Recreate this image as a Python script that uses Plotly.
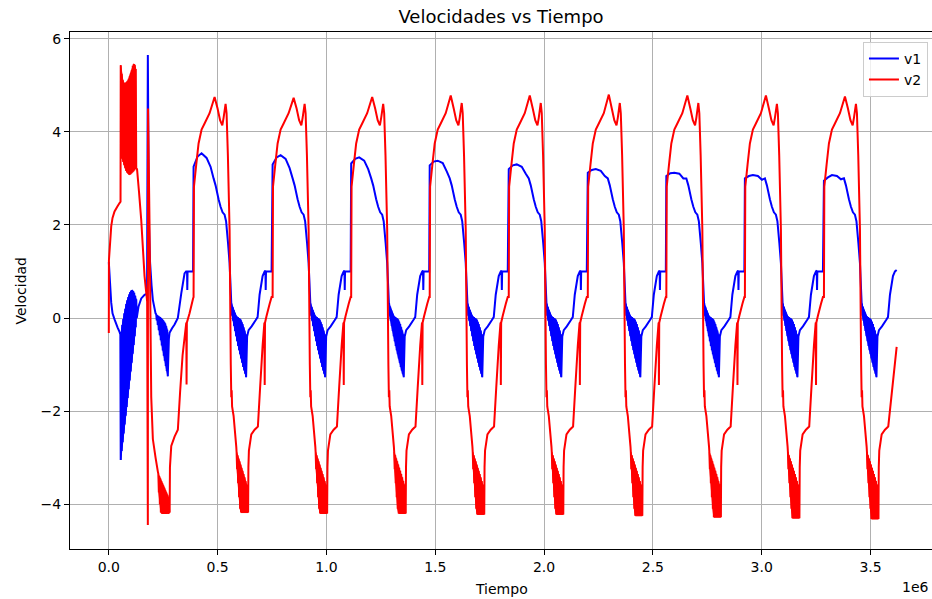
import plotly.graph_objects as go

# ---------------------------------------------------------------------------
# Time axis is expressed in units of 1e6 (shown as "1e6" offset text).
# ---------------------------------------------------------------------------

# Start times of the periodic cycles (moment v1 jumps up)
CYCLE_START = [0.3894, 0.7526, 1.1136, 1.4745, 1.8377, 2.2009, 2.5618, 2.9228, 3.2860]

# ---- start-up transient (before the first cycle) -------------------------
V1_INIT_T = [0.0000, 0.0055, 0.0110, 0.0170, 0.0262, 0.0400, 0.0492, 0.0529,
             # fast oscillation burst
             0.0547, 0.0570, 0.0593, 0.0616, 0.0639, 0.0662, 0.0685, 0.0708,
             0.0731, 0.0754, 0.0777, 0.0800, 0.0823, 0.0846, 0.0869, 0.0892,
             0.0915, 0.0938, 0.0961, 0.0984, 0.1007, 0.1030, 0.1053, 0.1076,
             0.1099, 0.1122, 0.1145, 0.1168, 0.1191, 0.1214, 0.1237, 0.1260,
             0.1283, 0.1366, 0.1490, 0.1641, 0.1756, 0.1793, 0.1839, 0.1894,
             0.1963, 0.2023, 0.2147,
             # second burst
             0.2179, 0.2202, 0.2225, 0.2248, 0.2271, 0.2294, 0.2317, 0.2340,
             0.2363, 0.2386, 0.2409, 0.2432, 0.2455, 0.2478, 0.2501, 0.2524,
             0.2547, 0.2570, 0.2593, 0.2616, 0.2639, 0.2662, 0.2685, 0.2708,
             0.2759, 0.2791, 0.2906, 0.3021, 0.3172, 0.3329, 0.3480, 0.3549,
             0.3595, 0.3605, 0.3618, 0.3871]
V1_INIT_V = [1.20, 0.76, 0.33, 0.10, -0.03, -0.20, -0.30, -0.35,
             -3.05, -0.30, -2.86, -0.15, -2.67, -0.02, -2.48, 0.10,
             -2.29, 0.20, -2.10, 0.30, -1.91, 0.38, -1.72, 0.45,
             -1.53, 0.51, -1.34, 0.56, -1.15, 0.59, -0.96, 0.60,
             -0.77, 0.58, -0.58, 0.54, -0.39, 0.48, -0.20, 0.40,
             0.00, 0.25, 0.42, 0.50, 0.52, 5.65, 2.10, 1.20,
             0.70, 0.39, 0.10,
             0.08, -0.05, 0.06, -0.15, 0.05, -0.26, 0.03, -0.37,
             0.02, -0.48, 0.00, -0.59, -0.02, -0.70, -0.05, -0.81,
             -0.08, -0.92, -0.12, -1.03, -0.18, -1.14, -0.25, -1.25,
             -0.45, -0.32, -0.22, -0.14, 0.00, 0.53, 0.96, 1.00,
             1.00, 0.60, 1.00, 1.00]
# index ranges of the oscillation bursts inside the lists above
V1_INIT_BURSTS = [(8, 40), (51, 75)]

V2_INIT_T = [0.0000, 0.0005, 0.0110, 0.0170, 0.0262, 0.0400, 0.0492, 0.0538,
             # fast oscillation burst
             0.0547, 0.0570, 0.0593, 0.0616, 0.0639, 0.0662, 0.0685, 0.0708,
             0.0731, 0.0754, 0.0777, 0.0800, 0.0823, 0.0846, 0.0869, 0.0892,
             0.0915, 0.0938, 0.0961, 0.0984, 0.1007, 0.1030, 0.1053, 0.1076,
             0.1099, 0.1122, 0.1145, 0.1168, 0.1191, 0.1214, 0.1237, 0.1260,
             0.1297, 0.1389, 0.1490, 0.1641, 0.1761, 0.1793, 0.1802, 0.1871,
             0.1949, 0.2023, 0.2147, 0.2253,
             # second burst
             0.2276, 0.2299, 0.2322, 0.2345, 0.2368, 0.2391, 0.2414, 0.2437,
             0.2460, 0.2483, 0.2506, 0.2529, 0.2552, 0.2575, 0.2598, 0.2621,
             0.2644, 0.2667, 0.2690, 0.2713, 0.2736, 0.2759, 0.2782, 0.2795,
             0.2809, 0.2869, 0.3021, 0.3172, 0.3274, 0.3389, 0.3559, 0.3572,
             0.3586, 0.3710, 0.3871]
V2_INIT_V = [-0.32, 1.24, 1.97, 2.15, 2.29, 2.40, 2.47, 2.50,
             5.43, 3.50, 5.25, 3.42, 5.12, 3.35, 5.06, 3.28,
             5.04, 3.22, 5.05, 3.16, 5.07, 3.12, 5.10, 3.10,
             5.14, 3.08, 5.20, 3.08, 5.26, 3.10, 5.33, 3.12,
             5.42, 3.14, 5.46, 3.17, 5.44, 3.20, 5.35, 3.22,
             3.20, 2.70, 2.10, 0.90, 0.35, -4.45, 4.50, 2.00,
             -1.70, -2.60, -3.00, -3.30,
             -3.35, -3.75, -3.40, -4.00, -3.45, -4.18, -3.50, -4.20,
             -3.55, -4.20, -3.60, -4.20, -3.65, -4.20, -3.70, -4.20,
             -3.75, -4.20, -3.80, -4.20, -3.85, -4.20, -3.90, -4.18,
             -3.20, -2.75, -2.55, -2.40, -1.60, -0.80, -0.10, -1.43,
             -0.10, 0.10, 0.42]
V2_INIT_BURSTS = [(8, 40), (52, 76)]

# ---- one cycle of v1 (offsets from the cycle start) ----------------------
# string entries are taken per cycle from the V1_* lists below
V1_CYCLE_DT = [0.0000, 0.0184, 0.0368, 0.0598, 0.0782,
               0.0920, 0.1011, 0.1149, 0.1241, 0.1333, 0.1425, 0.1494, 0.1586,
               0.1655, 0.1733,
               # oscillation burst
               0.1747, 0.1770, 0.1793, 0.1816, 0.1839, 0.1862, 0.1885, 0.1908,
               0.1931, 0.1954, 0.1977, 0.2000, 0.2023, 0.2046, 0.2069, 0.2092,
               0.2115, 0.2138, 0.2161, 0.2184, 0.2207, 0.2230, 0.2253, 0.2276,
               0.2299, 0.2322, 0.2345, 0.2368, 0.2391, 0.2414,
               0.2460, 0.2529, 0.2667, 0.2851, 0.2943, 0.3034, 0.3172, 0.3264,
               0.3301, 0.3315, 0.3329, 0.3586]
V1_CYCLE_V = ["jump", "rise", "peak", "fall1", "fall2",
              3.00, 2.85, 2.55, 2.39, 2.27, 2.22, 2.08, 1.60,
              1.18, 0.32,
              0.30, 0.05, 0.24, -0.06, 0.17, -0.17, 0.11, -0.28,
              0.06, -0.39, 0.03, -0.50, 0.02, -0.60, 0.00, -0.69,
              -0.01, -0.78, -0.03, -0.87, -0.08, -0.96, -0.13, -1.05,
              -0.20, -1.13, -0.27, -1.20, -0.35, -1.27,
              -0.40, -0.26, -0.18, -0.05, 0.02, 0.50, 0.90, 1.00,
              1.02, 0.60, 1.00, 1.00]
V1_CYCLE_BURST = (15, 45)

V1_JUMP = [3.25, 3.30, 3.32, 3.28, 3.20, 3.12, 3.05, 3.00, 2.95]
V1_RISE = [3.47, 3.45, 3.42, 3.36, 3.28, 3.18, 3.11, 3.05, 3.02]
V1_PEAK = [3.54, 3.50, 3.45, 3.38, 3.30, 3.20, 3.12, 3.07, 3.07]
V1_FALL1 = [3.44, 3.42, 3.38, 3.33, 3.25, 3.16, 3.10, 3.05, 3.05]
V1_FALL2 = [3.25, 3.22, 3.20, 3.15, 3.10, 3.05, 3.00, 2.97, 2.98]

# ---- one cycle of v2 -----------------------------------------------------
V2_CYCLE_DT = [0.0000, 0.0018, 0.0124, 0.0230, 0.0368, 0.0506, 0.0736,
               0.0966, 0.1103, 0.1218, 0.1320, 0.1379, 0.1471, 0.1517,
               0.1577, 0.1655, 0.1710, 0.1733, 0.1752, 0.1770, 0.1839, 0.1963,
               # oscillation burst
               0.1977, 0.2000, 0.2023, 0.2046, 0.2069, 0.2092, 0.2115, 0.2138,
               0.2161, 0.2184, 0.2207, 0.2230, 0.2253, 0.2276, 0.2299, 0.2322,
               0.2345, 0.2368, 0.2391, 0.2414, 0.2437, 0.2460, 0.2483, 0.2506,
               0.2520, 0.2543, 0.2653, 0.2805, 0.2956, 0.3057, 0.3172, 0.3255,
               0.3269, 0.3283, 0.3356, 0.3494, 0.3586]
V2_CYCLE_V = [0.45, 2.82, 3.30, 3.75, 4.05, 4.18, 4.40,
              "peak", 4.50, 4.25, 4.14, 4.30, "peak2", 4.40,
              3.50, 1.90, -1.00, -1.70, -1.55, -1.90, -2.10, -2.77,
              -2.88, -3.25, -2.95, -3.55, -3.02, -3.85, -3.08, -4.10,
              -3.15, "low", -3.22, "low", -3.28, "low", -3.35, "low",
              -3.42, "low", -3.50, "low", -3.58, "low", -3.65, "low",
              -3.20, -2.85, -2.50, -2.40, -2.33, -1.50, -0.60, -0.10,
              -1.44, -0.10, 0.05, 0.30, 0.45]
V2_CYCLE_BURST = (22, 46)

V2_PEAK = [4.75, 4.73, 4.75, 4.78, 4.78, 4.80, 4.78, 4.78, 4.76]
V2_PEAK2 = [4.60, 4.60, 4.60, 4.62, 4.62, 4.62, 4.62, 4.60, 4.60]
V2_LOW = [-4.18, -4.20, -4.20, -4.22, -4.22, -4.25, -4.28, -4.30, -4.32]

# the record stops partway through the last cycle
V1_LAST_CUT = 0.3264
V2_LAST_CUT = 0.2956
END_T = 3.6202
V1_END = 1.03
V2_END = -0.62


def band_outline(ts, vs, lo, hi):
    """Outline of a burst: one set of extremes forward, the other back."""
    xs = ts[lo:hi:2] + ts[lo + 1:hi:2][::-1]
    ys = vs[lo:hi:2] + vs[lo + 1:hi:2][::-1]
    return xs + [xs[0], None], ys + [ys[0], None]


def build(init_t, init_v, init_bursts, cyc_dt, cyc_v, cyc_burst,
          per_cycle, last_cut, end_v):
    ts, vs = list(init_t), list(init_v)
    bx, by = [], []
    for lo, hi in init_bursts:
        x, y = band_outline(ts, vs, lo, hi)
        bx += x
        by += y
    n = len(CYCLE_START)
    for c, t0 in enumerate(CYCLE_START):
        ct, cv = [], []
        for dt, v in zip(cyc_dt, cyc_v):
            if c == n - 1 and dt > last_cut:
                break
            ct.append(t0 + dt)
            cv.append(per_cycle[v][c] if isinstance(v, str) else v)
        x, y = band_outline(ct, cv, *cyc_burst)
        bx += x
        by += y
        ts += ct
        vs += cv
    ts.append(END_T)
    vs.append(end_v)
    return ts, vs, bx, by


t1, v1, b1x, b1y = build(V1_INIT_T, V1_INIT_V, V1_INIT_BURSTS,
                         V1_CYCLE_DT, V1_CYCLE_V, V1_CYCLE_BURST,
                         {"jump": V1_JUMP, "rise": V1_RISE, "peak": V1_PEAK,
                          "fall1": V1_FALL1, "fall2": V1_FALL2},
                         V1_LAST_CUT, V1_END)
t2, v2, b2x, b2y = build(V2_INIT_T, V2_INIT_V, V2_INIT_BURSTS,
                         V2_CYCLE_DT, V2_CYCLE_V, V2_CYCLE_BURST,
                         {"peak": V2_PEAK, "peak2": V2_PEAK2, "low": V2_LOW},
                         V2_LAST_CUT, V2_END)

FONT = "DejaVu Sans"
BLUE = "#0000ff"
RED = "#ff0000"

fig = go.Figure()
# the dense oscillation bursts are shaded so that they read as solid bands
fig.add_trace(go.Scatter(x=b1x, y=b1y, mode="lines", fill="toself",
                         fillcolor=BLUE, line=dict(color=BLUE, width=1),
                         showlegend=False, hoverinfo="skip"))
fig.add_trace(go.Scatter(x=t1, y=v1, mode="lines", name="v1",
                         line=dict(color=BLUE, width=2, simplify=False)))
fig.add_trace(go.Scatter(x=b2x, y=b2y, mode="lines", fill="toself",
                         fillcolor=RED, line=dict(color=RED, width=1),
                         showlegend=False, hoverinfo="skip"))
fig.add_trace(go.Scatter(x=t2, y=v2, mode="lines", name="v2",
                         line=dict(color=RED, width=2, simplify=False)))

fig.update_layout(
    width=932, height=599,
    margin=dict(l=70, r=0, t=32, b=50),
    paper_bgcolor="white", plot_bgcolor="white",
    font=dict(family=FONT, size=14, color="black"),
    title=dict(text="Velocidades vs Tiempo", x=0.5, xref="paper",
               xanchor="center", y=1 - 17 / 599, yref="container",
               yanchor="middle", font=dict(size=18, family=FONT)),
    showlegend=True,
    legend=dict(x=0.9953, xanchor="right", y=0.981, yanchor="top",
                bgcolor="rgba(255,255,255,0.8)", bordercolor="#cccccc",
                borderwidth=1, font=dict(size=14, family=FONT),
                itemwidth=30, tracegroupgap=0),
)

fig.update_xaxes(
    range=[-0.1784, 3.7826], tickmode="linear", tick0=0, dtick=0.5,
    tickformat=".1f", showgrid=True, gridcolor="#b0b0b0", gridwidth=1,
    showline=True, linecolor="black", linewidth=1, mirror=True,
    ticks="outside", ticklen=5, tickwidth=1, tickcolor="black",
    zeroline=False, tickfont=dict(size=14, family=FONT),
)
fig.update_yaxes(
    range=[-4.963, 6.145], tickmode="linear", tick0=0, dtick=2,
    showgrid=True, gridcolor="#b0b0b0", gridwidth=1,
    showline=True, linecolor="black", linewidth=1, mirror=False,
    ticks="outside", ticklen=5, tickwidth=1, tickcolor="black",
    zeroline=False, tickfont=dict(size=14, family=FONT),
)

fig.add_annotation(text="Tiempo", xref="paper", yref="paper", x=0.5, y=0,
                   xanchor="center", yanchor="middle", yshift=-40,
                   showarrow=False, font=dict(size=14, family=FONT))
fig.add_annotation(text="Velocidad", xref="paper", yref="paper", x=0, y=0.5,
                   xanchor="center", yanchor="middle", xshift=-50,
                   textangle=-90, showarrow=False,
                   font=dict(size=14, family=FONT))
fig.add_annotation(text="1e6", xref="paper", yref="paper", x=1, y=0,
                   xanchor="right", yanchor="middle", xshift=-1, yshift=-38,
                   showarrow=False, font=dict(size=14, family=FONT))

fig.write_html("out.html", config={"displayModeBar": False})
